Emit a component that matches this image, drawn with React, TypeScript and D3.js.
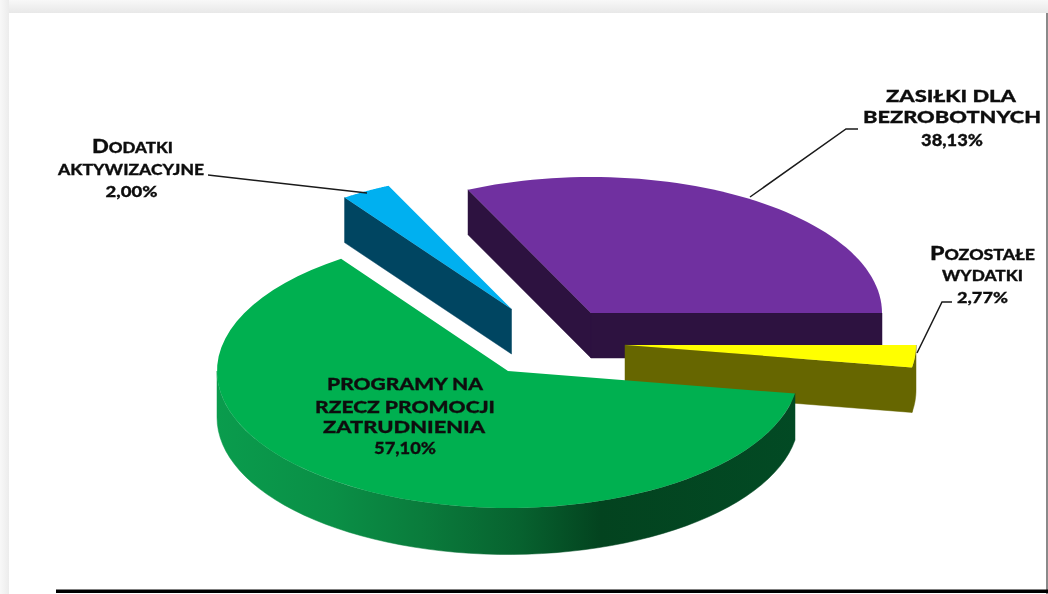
import React from "react";
import * as d3 from "d3";

// Data
const categories = ["ZASIŁKI DLA BEZROBOTNYCH", "POZOSTAŁE WYDATKI", "PROGRAMY NA RZECZ PROMOCJI ZATRUDNIENIA", "DODATKI AKTYWIZACYJNE"];
const shares = [38.13, 2.77, 57.1, 2.0];
const shareLabels = ["38,13%", "2,77%", "57,10%", "2,00%"];

// Appearance of each slice
const topColors = ["#7030a0", "#ffff00", "#00b050", "#00b0f0"];
const sideColors = ["#2d1240", "#666600", "url(#greenWall)", "#004561"];
const sliceCenterX = [591, 625, 508, 511.5];
const sliceCenterY = [313, 345, 371, 309];
const sliceRx = [291, 291, 291, 291];
const sliceRy = [136, 136, 137, 136];
const sliceDepth = [45, 45, 46.5, 45];

// The reference's perspective stretches the front of the pie and squeezes the back:
// the projected angle (degrees clockwise from the top) at each slice boundary.
const projectedBoundaries = [-25, 90, 99.5, 325, 335];

const W = 1048;
const H = 594;
const rad = (d: number) => (d * Math.PI) / 180;

const pieGen = d3.pie<number>().sort(null).value((d) => d);
const arcs = pieGen(shares);
const trueBoundaries = [...arcs.map((a) => a.startAngle), arcs[arcs.length - 1].endAngle];
const warp = d3.scaleLinear().domain(trueBoundaries).range(projectedBoundaries);

const lineGen = d3.line<[number, number]>().x((d) => d[0]).y((d) => d[1]);

function Slice({ i }: { i: number }) {
  const a = arcs[i];
  const cx = sliceCenterX[i], cy = sliceCenterY[i], rx = sliceRx[i], ry = sliceRy[i], depth = sliceDepth[i];
  const s = warp(a.startAngle), e = warp(a.endAngle);
  const pt = (deg: number, dy = 0): [number, number] => [
    cx + rx * Math.sin(rad(deg)),
    cy - ry * Math.cos(rad(deg)) + dy,
  ];
  const sample = (from: number, to: number, dy = 0) =>
    d3.range(0, 61).map((k) => pt(from + ((to - from) * k) / 60, dy));
  const apex: [number, number] = [cx, cy];
  const apexLow: [number, number] = [cx, cy + depth];
  const top = lineGen([apex, ...sample(s, e)]) + "Z";
  const wallFrom = Math.max(s, 90), wallTo = Math.min(e, 270);
  const side = sideColors[i];
  return (
    <g>
      {Math.sin(rad(s)) < 0 && (
        <path d={lineGen([apex, pt(s), pt(s, depth), apexLow])! + "Z"} fill={side} stroke={side} strokeWidth={0.5} />
      )}
      {Math.sin(rad(e)) > 0 && (
        <path d={lineGen([apex, pt(e), pt(e, depth), apexLow])! + "Z"} fill={side} stroke={side} strokeWidth={0.5} />
      )}
      {wallTo > wallFrom && (
        <path
          d={lineGen([...sample(wallFrom, wallTo), ...sample(wallFrom, wallTo, depth).reverse()])! + "Z"}
          fill={side}
          stroke={side}
          strokeWidth={0.5}
        />
      )}
      <path d={top} fill={topColors[i]} />
    </g>
  );
}

const font = "Lato, 'Open Sans', sans-serif";

// One label line: centred at x, on baseline y, stretched to the width it has in the reference.
function Line({ x, y, w, size, first, rest }: { x: number; y: number; w: number; size: number; first?: string; rest: string }) {
  return (
    <text
      x={x}
      y={y}
      textAnchor="middle"
      textLength={w}
      lengthAdjust="spacingAndGlyphs"
      fontFamily={font}
      fontWeight={900}
      fontSize={size}
      fill="#111"
      stroke="#111"
      strokeWidth={0.3}
      filter="url(#soft)"
    >
      {first && <tspan fontSize={size * 1.3}>{first}</tspan>}
      <tspan>{rest}</tspan>
    </text>
  );
}

const leader = (pts: [number, number][]) => (
  <path d={lineGen(pts)!} fill="none" stroke="#1a1a1a" strokeWidth={1.5} />
);

export default function App() {
  return (
    <svg width={W} height={H} style={{ position: "absolute", left: 0, top: 0 }}>
      <defs>
        <linearGradient id="frameTop" x1="0" y1="0" x2="0" y2="1">
          <stop offset="0" stopColor="#f8f8f8" />
          <stop offset="1" stopColor="#e8e8e8" />
        </linearGradient>
        <linearGradient id="frameLeft" x1="0" y1="0" x2="1" y2="0">
          <stop offset="0" stopColor="#f8f8f8" />
          <stop offset="1" stopColor="#ececec" />
        </linearGradient>
        <linearGradient id="greenWall" gradientUnits="userSpaceOnUse" x1={217} y1={0} x2={799} y2={0}>
          <stop offset="0" stopColor="#0a9c4d" />
          <stop offset="0.2" stopColor="#0a8f46" />
          <stop offset="0.35" stopColor="#0a7c3c" />
          <stop offset="0.52" stopColor="#07622f" />
          <stop offset="0.66" stopColor="#03431f" />
          <stop offset="1" stopColor="#024a24" />
        </linearGradient>
        <filter id="soft" x="-10%" y="-20%" width="120%" height="140%">
          <feGaussianBlur stdDeviation="0.45" />
        </filter>
      </defs>

      <rect x={0} y={0} width={W} height={H} fill="#ffffff" />
      <rect x={0} y={0} width={W} height={13} fill="url(#frameTop)" />
      <rect x={0} y={0} width={9} height={H} fill="url(#frameLeft)" />
      <rect x={1046} y={13} width={2} height={H - 13} fill="#8a8a8a" />
      <rect x={56} y={589.5} width={W - 56} height={3.5} fill="#000" />

      <Slice i={0} />
      <Slice i={1} />
      <Slice i={3} />
      <Slice i={2} />

      {leader([[208, 175], [367, 193]])}
      {leader([[750, 197], [846, 129], [858, 129]])}
      {leader([[917, 353], [942, 302], [952, 302]])}

      <Line x={132.5} y={153} w={81} size={14.5} first="D" rest="ODATKI" />
      <Line x={131} y={175} w={146} size={14.5} rest={categories[3].split(" ")[1]} />
      <Line x={131.5} y={197} w={52} size={15.5} rest={shareLabels[3]} />

      <Line x={951} y={102} w={130} size={16.5} rest="ZASIŁKI DLA" />
      <Line x={952} y={123} w={178} size={16.5} rest="BEZROBOTNYCH" />
      <Line x={952} y={146} w={62} size={16.5} rest={shareLabels[0]} />

      <Line x={982.5} y={260} w={105} size={14.5} first="P" rest="OZOSTAŁE" />
      <Line x={982.5} y={281} w={81} size={14.5} rest="WYDATKI" />
      <Line x={982.5} y={303} w={51} size={15.5} rest={shareLabels[1]} />

      <Line x={405} y={390} w={156} size={16.5} rest="PROGRAMY NA" />
      <Line x={405} y={413} w={180} size={16.5} rest="RZECZ PROMOCJI" />
      <Line x={404} y={433} w={162} size={16.5} rest="ZATRUDNIENIA" />
      <Line x={405} y={454} w={62} size={16.5} rest={shareLabels[2]} />
    </svg>
  );
}
